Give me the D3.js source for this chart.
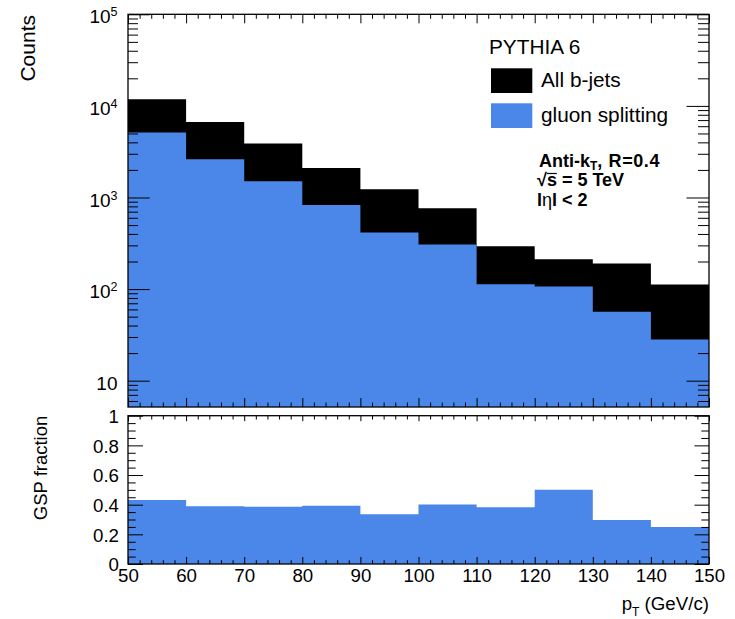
<!DOCTYPE html>
<html><head><meta charset="utf-8">
<script src="https://cdn.jsdelivr.net/npm/d3@7"></script>
<style>
body{margin:0;background:#fff}
svg{display:block}
text{font-family:"Liberation Sans",Arial,Helvetica,sans-serif;fill:#000}
</style>
</head><body>
<svg id="c" width="735" height="619"></svg>
<script>
// ---- data ----
const binEdges = [50, 60, 70, 80, 90, 100, 110, 120, 130, 140, 150];
const allBjets = [11800, 6680, 3880, 2100, 1232, 764, 293, 212, 190, 112];
const gluonSplitting = [5110, 2620, 1507, 830, 415, 307, 112.6, 106.7, 56.5, 28.2];
const gspFraction = [0.432, 0.39, 0.386, 0.392, 0.336, 0.402, 0.382, 0.501, 0.297, 0.249];
const xTickValues = [50, 60, 70, 80, 90, 100, 110, 120, 130, 140, 150];
const xTickLabels = ["50", "60", "70", "80", "90", "100", "110", "120", "130", "140", "150"];
const countsTicks = [10, 100, 1000, 10000, 100000];
const fractionTicks = [0, 0.2, 0.4, 0.6, 0.8, 1];
const fractionTickLabels = ["0", "0.2", "0.4", "0.6", "0.8", "1"];
const legendLabels = ["All b-jets", "gluon splitting"];

// ---- layout ----
const svg = d3.select("#c");
const L = 128, R = 709, T1 = 14.3, B1 = 407, T2 = 415.7, B2 = 564;
const blue = "#4a87e8";
const x = d3.scaleLinear().domain([50, 150]).range([L, R]);
const yC = d3.scaleLog().domain([5.16, 1e5]).range([B1, T1]);
const yF = d3.scaleLinear().domain([0, 1]).range([B2, T2]);

function stepArea(y, vals, base) {
  const pts = binEdges.map((e, i) => ({e, v: vals[Math.min(i, vals.length - 1)]}));
  return d3.area().x(d => x(d.e)).y0(base).y1(d => y(d.v)).curve(d3.curveStepAfter)(pts);
}

// histograms
svg.append("path").attr("d", stepArea(yC, allBjets, B1)).attr("fill", "#000");
svg.append("path").attr("d", stepArea(yC, gluonSplitting, B1)).attr("fill", blue);
svg.append("path").attr("d", stepArea(yF, gspFraction, B2)).attr("fill", blue);

// minor tick values
const logMinor = [];
for (let d = 1; d <= 1e4; d *= 10) for (let m = 2; m <= 9; m++) { const v = m * d; if (v >= 5.16) logMinor.push(v); }
const xMinor = d3.range(50, 150.01, 2).filter(v => v % 10 !== 0);
const fMinor = d3.range(0, 1.001, 0.05).filter(v => Math.abs(v * 5 - Math.round(v * 5)) > 1e-6);

function axisG(axis, tx, ty) {
  const g = svg.append("g").attr("transform", `translate(${tx},${ty})`).call(axis);
  g.attr("font-size", null).attr("font-family", null);
  g.select(".domain").remove();
  g.selectAll("line").attr("stroke", "#000").attr("stroke-width", 1);
  return g;
}

// top panel axes
const gCl = axisG(d3.axisLeft(yC).tickValues(countsTicks).tickSizeInner(-21.7).tickSizeOuter(0).tickPadding(10.5), L, 0);
gCl.selectAll(".tick text").each(function(d) {
  const t = d3.select(this).text("").attr("font-size", "19px").attr("dy", "0.45em");
  t.append("tspan").text("10");
  if (d > 10) t.append("tspan").attr("dy", "-0.55em").attr("font-size", "12.5px").text(Math.round(Math.log10(d)));
});
axisG(d3.axisLeft(yC).tickValues(logMinor).tickSizeInner(-10).tickSizeOuter(0).tickFormat(""), L, 0);
axisG(d3.axisRight(yC).tickValues(countsTicks).tickSizeInner(-22.5).tickSizeOuter(0).tickFormat(""), R, 0);
axisG(d3.axisRight(yC).tickValues(logMinor).tickSizeInner(-11).tickSizeOuter(0).tickFormat(""), R, 0);
axisG(d3.axisBottom(x).tickValues(xTickValues).tickSizeInner(-9).tickSizeOuter(0).tickFormat(""), 0, B1);
axisG(d3.axisBottom(x).tickValues(xMinor).tickSizeInner(-4.5).tickSizeOuter(0).tickFormat(""), 0, B1);
axisG(d3.axisTop(x).tickValues(xTickValues).tickSizeInner(-9).tickSizeOuter(0).tickFormat(""), 0, T1);
axisG(d3.axisTop(x).tickValues(xMinor).tickSizeInner(-4.5).tickSizeOuter(0).tickFormat(""), 0, T1);

// bottom panel axes
const gFl = axisG(d3.axisLeft(yF).tickValues(fractionTicks).tickSizeInner(-15).tickSizeOuter(0).tickPadding(9)
  .tickFormat((d, i) => fractionTickLabels[i]), L, 0);
gFl.selectAll(".tick text").attr("font-size", "18.7px").attr("dy", "0.36em");
axisG(d3.axisLeft(yF).tickValues(fMinor).tickSizeInner(-7.7).tickSizeOuter(0).tickFormat(""), L, 0);
axisG(d3.axisRight(yF).tickValues(fractionTicks).tickSizeInner(-14.5).tickSizeOuter(0).tickFormat(""), R, 0);
axisG(d3.axisRight(yF).tickValues(fMinor).tickSizeInner(-7.7).tickSizeOuter(0).tickFormat(""), R, 0);
const gFb = axisG(d3.axisBottom(x).tickValues(xTickValues).tickSizeInner(-7).tickSizeOuter(0).tickPadding(5)
  .tickFormat((d, i) => xTickLabels[i]), 0, B2);
gFb.selectAll(".tick text").attr("font-size", "18.7px").attr("dy", "0.71em");
axisG(d3.axisBottom(x).tickValues(xMinor).tickSizeInner(-3.8).tickSizeOuter(0).tickFormat(""), 0, B2);
axisG(d3.axisTop(x).tickValues(xTickValues).tickSizeInner(-5.5).tickSizeOuter(0).tickFormat(""), 0, T2);
axisG(d3.axisTop(x).tickValues(xMinor).tickSizeInner(-3.8).tickSizeOuter(0).tickFormat(""), 0, T2);

// frames
svg.append("rect").attr("x", L).attr("y", T1).attr("width", R - L).attr("height", B1 - T1)
  .attr("fill", "none").attr("stroke", "#000").attr("stroke-width", 1.3);
svg.append("rect").attr("x", L).attr("y", T2).attr("width", R - L).attr("height", B2 - T2)
  .attr("fill", "none").attr("stroke", "#000").attr("stroke-width", 1.3);

// axis titles
svg.append("text").attr("transform", "translate(34.5,15) rotate(-90)").attr("text-anchor", "end")
  .attr("font-size", "21px").text("Counts");
svg.append("text").attr("transform", `translate(47,${T2}) rotate(-90)`).attr("text-anchor", "end")
  .attr("font-size", "18.5px").text("GSP fraction");
const xt = svg.append("text").attr("x", R).attr("y", 610).attr("text-anchor", "end").attr("font-size", "18.7px");
xt.append("tspan").text("p");
xt.append("tspan").attr("dy", 6).attr("font-size", "12px").text("T");
xt.append("tspan").attr("dy", -6).text(" (GeV/c)");

// legend
svg.append("text").attr("x", 489).attr("y", 54.3).attr("font-size", "20.8px").text("PYTHIA 6");
const legColors = ["#000", blue];
const legY = [68.3, 103.3];
legendLabels.forEach((lab, i) => {
  svg.append("rect").attr("x", 491).attr("y", legY[i]).attr("width", 41.3).attr("height", 24.7).attr("fill", legColors[i]);
  svg.append("text").attr("x", 541).attr("y", legY[i] + 18.5).attr("font-size", "20.8px").text(lab);
});

// annotation
const a1 = svg.append("text").attr("x", 539).attr("y", 166.8).attr("font-size", "18px").attr("font-weight", "bold");
a1.append("tspan").text("Anti-k");
a1.append("tspan").attr("dy", 3).attr("font-size", "12px").text("T");
a1.append("tspan").attr("dy", -3).attr("letter-spacing", "0.6px").text(", R=0.4");
const a2 = svg.append("text").attr("x", 537).attr("y", 186).attr("font-size", "18px").attr("font-weight", "bold")
  .text("\u221As = 5 TeV");
const sBox = a2.node().getExtentOfChar(1);
svg.append("line").attr("x1", sBox.x).attr("x2", sBox.x + sBox.width).attr("y1", sBox.y + 3.5).attr("y2", sBox.y + 3.5)
  .attr("stroke", "#000").attr("stroke-width", 1.2);
const a3 = svg.append("text").attr("x", 537).attr("y", 205.7).attr("font-size", "18px").attr("font-weight", "bold");
a3.append("tspan").text("l");
a3.append("tspan").attr("font-weight", "normal").text("\u03B7");
a3.append("tspan").text("l < 2");
</script>
</body></html>
